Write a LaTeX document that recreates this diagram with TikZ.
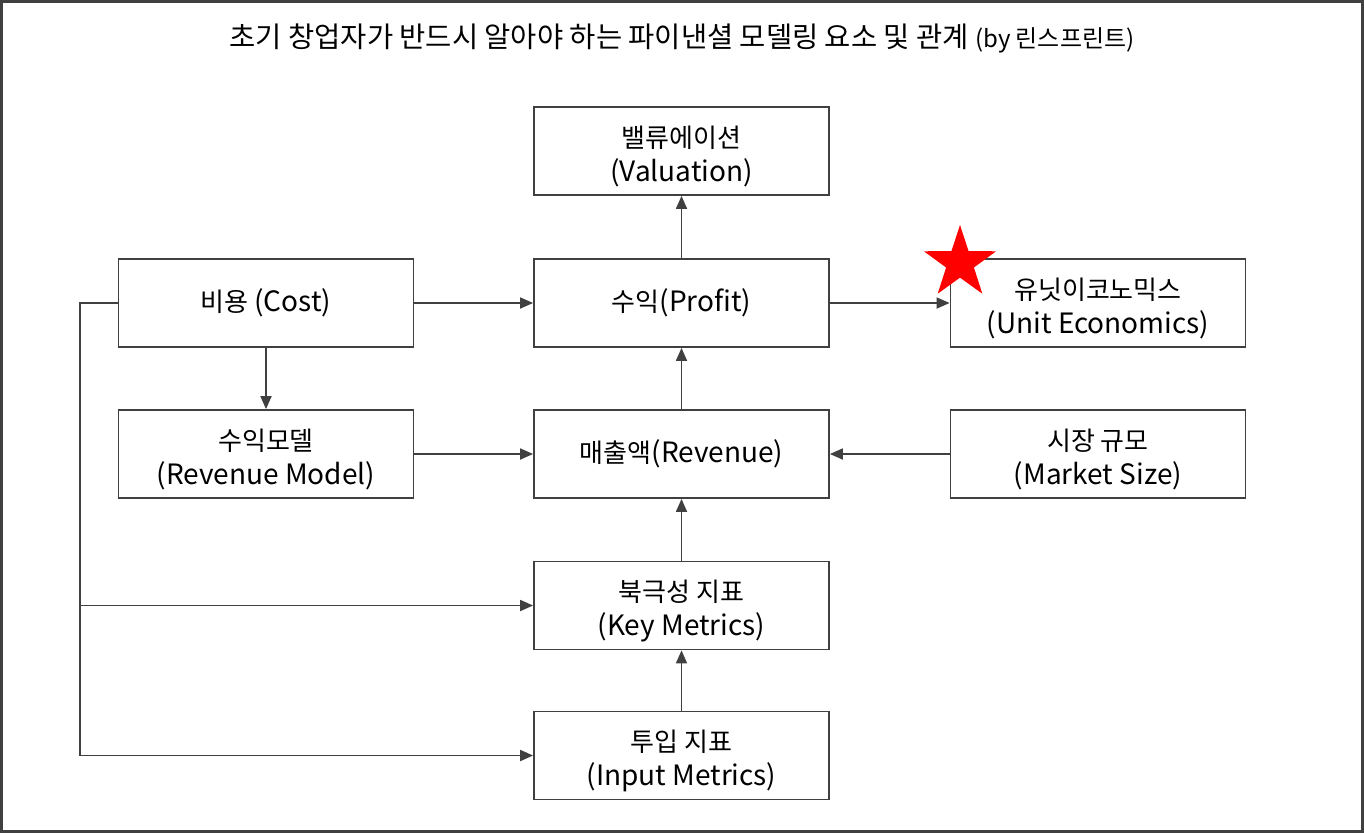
\documentclass[tikz,border=0pt]{standalone}
\usepackage{fontspec}
\setmainfont{Noto Sans CJK KR}
\usetikzlibrary{arrows.meta,shapes.geometric}
\definecolor{ln}{HTML}{404040}
\newcommand{\enx}[1]{{\fontsize{28}{34}\selectfont #1}}
\newcommand{\tl}{\rule{0pt}{32pt}}
\tikzset{
  box/.style={draw=ln, line width=1.8pt, fill=white, minimum width=295pt, minimum height=88pt, align=center, inner sep=0pt, font=\fontsize{26}{34}\selectfont, text=black},
  conn/.style={draw=ln, line width=1.8pt, -{Triangle[length=13pt,width=11pt]}},
  plain/.style={draw=ln, line width=1.8pt}
}
\begin{document}
\begin{tikzpicture}[x=1pt,y=-1pt]
\draw[ln, line width=3pt, fill=white] (1.5,1.5) rectangle (1362.5,831.5);
\node[font=\fontsize{28.5}{33}\selectfont] (title) at (682,38) {초기 창업자가 반드시 알아야 하는 파이낸셜 모델링 요소 및 관계 {\fontsize{24}{28}\selectfont(by 린스프린트)}};
\node[box] (val) at (681.5,151) {\tl 밸류에이션\\\enx{(Valuation)}};
\node[box] (cost) at (266,303) {비용 \enx{(Cost)}};
\node[box] (profit) at (681.5,303) {수익\enx{(Profit)}};
\node[box] (unit) at (1098,303) {\tl 유닛이코노믹스\\\enx{(Unit Economics)}};
\node[box] (rmodel) at (266,454) {\tl 수익모델\\\enx{(Revenue Model)}};
\node[box] (rev) at (681.5,454) {매출액\enx{(Revenue)}};
\node[box] (market) at (1098,454) {\tl 시장 규모\\\enx{(Market Size)}};
\node[box] (key) at (681.5,605.5) {\tl 북극성 지표\\\enx{(Key Metrics)}};
\node[box] (input) at (681.5,755.5) {\tl 투입 지표\\\enx{(Input Metrics)}};
\coordinate (lt) at (80,303);
\coordinate (lk) at (80,605.5);
\coordinate (lb) at (80,755.5);
\draw[conn] (profit) -- (val);
\draw[conn] (cost) -- (profit);
\draw[conn] (profit) -- (unit);
\draw[conn] (cost) -- (rmodel);
\draw[conn] (rmodel) -- (rev);
\draw[conn] (rev) -- (profit);
\draw[conn] (market) -- (rev);
\draw[conn] (key) -- (rev);
\draw[conn] (input) -- (key);
\draw[plain] (cost.west) -- (lt) -- (lb);
\draw[conn] (lk) -- (key.west);
\draw[conn] (lb) -- (input.west);
\node[star, star points=5, star point ratio=2.6, fill=red, minimum size=76pt, inner sep=0pt] (star) at (960,263) {};
\end{tikzpicture}
\end{document}
